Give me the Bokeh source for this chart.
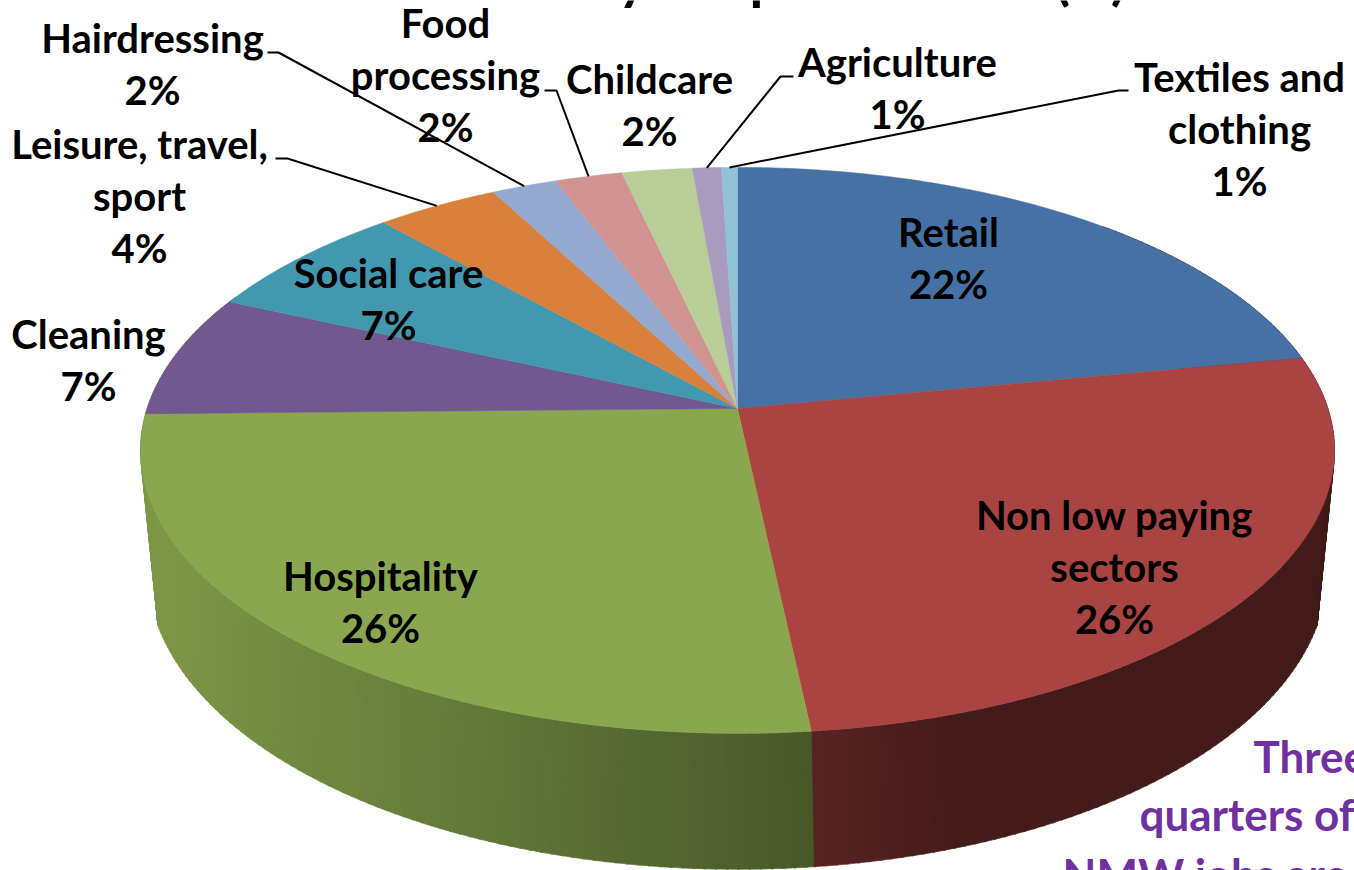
import numpy as np
from bokeh.plotting import figure
from bokeh.models import Range1d
from bokeh.core.properties import value
from bokeh.embed import file_html
from bokeh.resources import INLINE

# ---- data ----
categories = ["Retail", "Non low paying sectors", "Hospitality", "Cleaning", "Social care",
              "Leisure, travel, sport", "Hairdressing", "Food processing", "Childcare",
              "Agriculture", "Textiles and clothing"]
shares = [22.0, 26.3, 26.4, 7.0, 6.7, 3.85, 2.05, 2.1, 2.2, 0.9, 0.5]
percent_labels = ["22%", "26%", "26%", "7%", "7%", "4%", "2%", "2%", "2%", "1%", "1%"]
label_lines = [["Retail"], ["Non low paying", "sectors"], ["Hospitality"], ["Cleaning"], ["Social care"],
               ["Leisure, travel,", "sport"], ["Hairdressing"], ["Food", "processing"], ["Childcare"],
               ["Agriculture"], ["Textiles and", "clothing"]]
note_lines = ["Three", "quarters of", "NMW jobs are"]
title_fragments = ["y", "p", "(", ")"]   # all that the crop leaves of the title

# ---- styles and layout ----
colors = ["#4571A5", "#A94442", "#8AA64F", "#71588F", "#4198AF", "#D9813C",
          "#93A9CF", "#D19392", "#B9CD96", "#A99BBD", "#91C3D5"]
label_x = [948, 1114, 380, 88, 388, 139, 152, 445, 649, 897, 1239]
label_y = [231, 514, 575, 333, 272, 143, 37, 22, 78, 61, 76]
line_step = 52
leader_elbow = {5: ((275, 158), (287, 158)), 6: ((267, 52), (278, 52)), 7: ((544, 90), (556, 90)),
                9: ((793, 76), (780, 76)), 10: ((1128, 90), (1118, 90))}
FONT = "Lato"
FS = "40px"

CX = 737
TOP = dict(y0=408.0, A=590.4, B=276.8, k=0.148)
BOT = dict(y0=513.0, A=579.0, B=288.2, k=0.19)
BOT_LIMITS = (30.9, 69.1)   # where the wall's lower rim meets its silhouette


def project(frac, g):
    a = np.asarray(frac) * 2 * np.pi / 100.0
    d = 1 + g["k"] * np.cos(a)
    return CX + g["A"] * np.sin(a) / d, g["y0"] - g["B"] * np.cos(a) / d


def hexrgb(h):
    return np.array([int(h[i:i + 2], 16) for i in (1, 3, 5)], float)


def shade(h, f):
    c = np.clip(hexrgb(h) * f, 0, 255).astype(int)
    return "#%02x%02x%02x" % tuple(c)


edges = np.concatenate([[0], np.cumsum(shares)])
front = float(edges[2])

p = figure(width=1354, height=870, x_range=Range1d(0, 1354), y_range=Range1d(870, 0),
           output_backend="svg", toolbar_location=None, min_border=0,
           x_axis_type=None, y_axis_type=None, outline_line_color=None, background_fill_color="white")
p.grid.visible = False

# side wall: thin strips so the shading runs across it
fracs = np.concatenate([np.arange(12, front, 0.25), np.arange(82, front, -0.25)])
sx, sy, sc = [], [], []
for f in fracs:
    f2 = min(f + 0.3, front) if f < front else max(f - 0.3, front)
    xt, yt = project([f, f2], TOP)
    xb, yb = project(np.clip([f2, f], *BOT_LIMITS), BOT)
    mid = (f + f2) / 2
    i = min(int(np.searchsorted(edges, mid, side="right")) - 1, len(shares) - 1)
    if i > 2:
        i = 2
    if i < 1:
        i = 1
    xm = float((xt.mean() + xb.mean()) / 2)
    fac = float(np.interp(xm, [140, 815, 950, 1340], [0.92, 0.53, 0.40, 0.40]))
    sx.append(list(xt) + list(xb))
    sy.append(list(yt) + list(yb))
    sc.append(shade(colors[i], fac))
p.patches(sx, sy, fill_color=sc, line_color=sc, line_width=0.6)

# top face
tx, ty = [], []
for i in range(len(shares)):
    f = np.linspace(edges[i], edges[i + 1], max(int(shares[i] * 6), 6))
    x, y = project(f, TOP)
    tx.append([CX] + list(x))
    ty.append([TOP["y0"]] + list(y))
p.patches(tx, ty, fill_color=colors, line_color=colors, line_width=0.5)

# leader lines
for i, (a, b) in leader_elbow.items():
    ex, ey = project((edges[i] + edges[i + 1]) / 2, TOP)
    p.line([a[0], b[0], float(ex)], [a[1], b[1], float(ey)], line_color="black", line_width=2)

# labels
lx, ly, lt = [], [], []
for i, lines in enumerate(label_lines):
    rows = lines + [percent_labels[i]]
    for j, t in enumerate(rows):
        lx.append(label_x[i])
        ly.append(label_y[i] + j * line_step)
        lt.append(t)
p.text(lx, ly, text=lt, text_font=value(FONT), text_font_style="bold", text_font_size=FS,
       text_align="center", text_baseline="alphabetic", text_color="black")

# note, running off the page as in the picture
p.text([1253, 1139, 1062], [755, 813, 873], text=note_lines, text_font=value(FONT), text_font_style="bold",
       text_font_size="44px", text_align="left", text_baseline="alphabetic", text_color="#7030A0")

# title bottoms at the very top of the page
p.text([632, 765, 1062, 1118], [-23, -23, -23, -23], text=title_fragments, text_font=value(FONT),
       text_font_style="bold", text_font_size="56px", text_align="center", text_baseline="alphabetic",
       text_color="black")

open("out.html", "w").write(file_html(p, INLINE))
